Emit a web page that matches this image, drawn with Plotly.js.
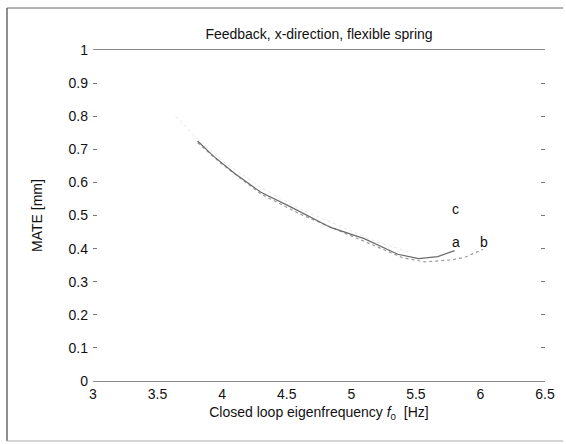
<!DOCTYPE html>
<html>
<head>
<meta charset="utf-8">
<script src="https://cdn.plot.ly/plotly-3.0.1.min.js"></script>
<style>html,body{margin:0;padding:0;background:#fff;}#chart{width:566px;height:444px;}</style>
</head>
<body>
<div id="chart"></div>
<script>
// Curve a (solid)
const aX = [3.81, 3.93, 4.10, 4.30, 4.53, 4.84, 5.10, 5.36, 5.52, 5.67, 5.80];
const aY = [0.725, 0.680, 0.626, 0.570, 0.526, 0.464, 0.430, 0.383, 0.370, 0.376, 0.394];
// Curve b (dotted)
const bX = [3.81, 4.00, 4.30, 4.60, 4.90, 5.20, 5.40, 5.57, 5.78, 5.88, 6.02];
const bY = [0.720, 0.655, 0.565, 0.505, 0.455, 0.405, 0.372, 0.360, 0.366, 0.374, 0.398];
// Curve c (very faint)
const cX = [3.64, 3.80, 4.00, 4.30, 4.60, 4.90, 5.20, 5.45];
const cY = [0.800, 0.735, 0.665, 0.585, 0.520, 0.470, 0.420, 0.390];
// Curve labels
const labelText = ['a', 'b', 'c'];
const labelX = [5.81, 6.03, 5.81];
const labelY = [0.42, 0.42, 0.52];
// Tick values
const xTicks = [3, 3.5, 4, 4.5, 5, 5.5, 6, 6.5];
const yTicks = [0, 0.1, 0.2, 0.3, 0.4, 0.5, 0.6, 0.7, 0.8, 0.9, 1];

const W = 566, H = 444;
const mL = 93, mR = 21, mT = 50, mB = 63;
const pw = W - mL - mR, ph = H - mT - mB;
const px2x = p => (p - mL) / pw;
const py2y = p => (H - mB - p) / ph;

const font = 'Liberation Sans, Arial, Helvetica, sans-serif';

const traces = [
  {x: cX, y: cY, mode: 'lines', line: {color: '#e6e6e6', width: 1, dash: 'dot'}, hoverinfo: 'skip'},
  {x: bX, y: bY, mode: 'lines', line: {color: '#9a9a9a', width: 1.2, dash: 'dot'}, hoverinfo: 'skip'},
  {x: aX, y: aY, mode: 'lines', line: {color: '#6a6a6a', width: 1.2}, hoverinfo: 'skip'}
];

const annotations = labelText.map((t, i) => ({
  x: labelX[i], y: labelY[i], xref: 'x', yref: 'y', text: t, showarrow: false,
  font: {family: font, size: 14, color: '#111'}
}));

const layout = {
  width: W, height: H,
  margin: {l: mL, r: mR, t: mT, b: mB, pad: 0},
  paper_bgcolor: '#fff', plot_bgcolor: '#fff',
  showlegend: false,
  font: {family: font, size: 14, color: '#111'},
  title: {text: 'Feedback, x-direction, flexible spring', x: 0.5, xref: 'paper', y: 1 - 34 / H, yref: 'container', yanchor: 'middle', font: {family: font, size: 14, color: '#111'}},
  xaxis: {
    range: [3, 6.5], tickvals: xTicks, ticktext: xTicks.map(String),
    showgrid: false, zeroline: false, showline: true, mirror: true,
    linecolor: '#8a8a8a', linewidth: 1, ticks: '',
    tickfont: {family: font, size: 14, color: '#111'},
    title: {text: 'Closed loop eigenfrequency <i>f</i><sub>0</sub>  [Hz]', standoff: 6, font: {family: font, size: 14, color: '#111'}}
  },
  yaxis: {
    range: [0, 1], tickvals: yTicks, ticktext: yTicks.map(String),
    showgrid: false, zeroline: false, showline: false, mirror: 'ticks',
    ticks: 'inside', ticklen: 4, tickcolor: '#777', tickwidth: 1,
    ticklabelstandoff: 4,
    tickfont: {family: font, size: 14, color: '#111'},
    title: {text: 'MATE [mm]', standoff: 22, font: {family: font, size: 14, color: '#111'}}
  },
  annotations: annotations,
  shapes: [
    {type: 'line', xref: 'paper', yref: 'paper', x0: px2x(7), x1: px2x(7), y0: py2y(8), y1: py2y(441), line: {color: '#444', width: 1.2}},
    {type: 'line', xref: 'paper', yref: 'paper', x0: px2x(7), x1: px2x(563), y0: py2y(8), y1: py2y(8), line: {color: '#666', width: 1}},
    {type: 'line', xref: 'paper', yref: 'paper', x0: px2x(7), x1: px2x(563), y0: py2y(441), y1: py2y(441), line: {color: '#aaa', width: 1}}
  ]
};

Plotly.newPlot('chart', traces, layout, {displayModeBar: false, staticPlot: true});
</script>
</body>
</html>
